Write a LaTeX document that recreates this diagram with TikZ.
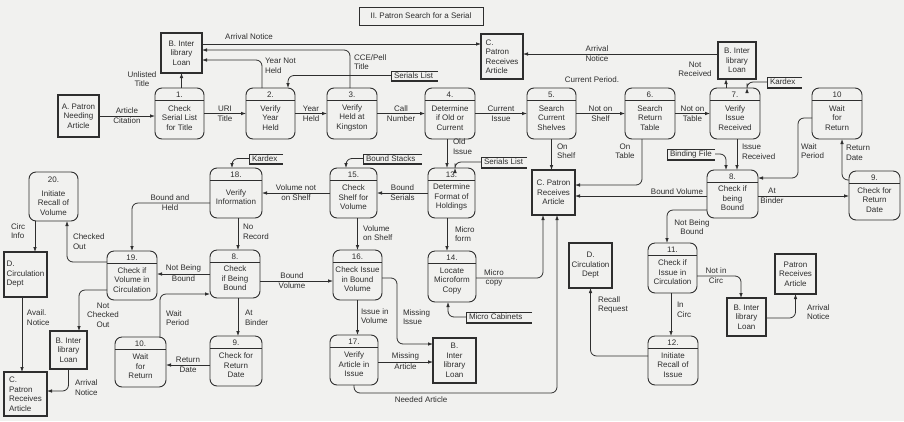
\documentclass[tikz,border=0pt]{standalone}
\usepackage{fontspec}
\setmainfont{Liberation Sans}
\usetikzlibrary{arrows.meta,calc}
\definecolor{bg}{HTML}{F1F1EF}
\definecolor{ink}{HTML}{2E2E2E}
\newcommand{\labfont}{\fontsize{8}{9.5}\selectfont}
\tikzset{
  procbox/.style={draw=ink, line width=0.9pt, rounded corners=7pt, inner sep=0pt, outer sep=0pt},
  entbox/.style={draw=ink, line width=1.3pt, inner sep=1pt, outer sep=0pt, font=\labfont, text=ink},
  txt/.style={inner sep=0pt, outer sep=0pt, align=center, font=\labfont, text=ink},
  storeline/.style={draw=ink, line width=0.7pt},
  divline/.style={draw=ink, line width=0.7pt},
  conn/.style={draw=ink, line width=0.8pt, rounded corners=6pt, -{Latex[length=5pt,width=3.6pt]}},
}
% process: name, x1, y1, x2, y2, number, body
\newcommand{\mkproc}[7]{%
  \node[procbox, minimum width={(#4-#2)*1pt}, minimum height={(#5-#3)*1pt}] (#1) at ({(#2+#4)/2},{(#3+#5)/2}) {};
  \draw[divline] ([yshift=-12.5pt]#1.north west) -- ([yshift=-12.5pt]#1.north east);
  \node[txt] at ([yshift=-6.5pt]#1.north) {#6};
  \node[txt, yshift=2pt] at ($(#1.south)!0.5!([yshift=-12.5pt]#1.north)$) {#7};
}
% external entity: [align] name, x1, y1, x2, y2, text
\newcommand{\mkent}[7][center]{%
  \node[entbox, align=#1, minimum width={(#5-#3)*1pt}, minimum height={(#6-#4)*1pt}] (#2) at ({(#3+#5)/2},{(#4+#6)/2}) {#7};
}
% data store: name, x1, y1, x2, y2, text
\newcommand{\mkstore}[6]{%
  \node[txt, anchor=west, inner xsep=3pt, minimum height={(#5-#3)*1pt}] (#1) at (#2,{(#3+#5)/2}) {#6};
  \coordinate (#1-e) at (#4,{(#3+#5)/2});
  \draw[storeline] (#4,#3) -- (#2,#3) -- (#2,#5) -- (#4,#5);
  \draw[storeline] (#2,#5+1.6) -- (#4,#5+1.6);
}
\begin{document}
\begin{tikzpicture}[x=1pt,y=-1pt]
\useasboundingbox (0,0) rectangle (904,421);
\fill[bg] (0,0) rectangle (904,421);

% title
\node[txt, draw=ink, line width=0.7pt, minimum width=124pt, minimum height=18pt] (title) at (421,16) {II. Patron Search for a Serial};

% ---------- processes ----------
\mkproc{p1}{155}{88}{204}{139}{1.}{Check\\Serial List\\for Title}
\mkproc{p2}{246}{88}{295}{139}{2.}{Verify\\Year\\Held}
\mkproc{p3}{327}{88}{377}{139}{3.}{Verify\\Held at\\Kingston}
\mkproc{p4}{425}{88}{475}{139}{4.}{Determine\\if Old or\\Current}
\mkproc{p5}{527}{88}{576}{139}{5.}{Search\\Current\\Shelves}
\mkproc{p6}{625}{88}{675}{139}{6.}{Search\\Return\\Table}
\mkproc{p7}{710}{88}{760}{139}{7.}{Verify\\Issue\\Received}
\mkproc{pXa}{812}{88}{862}{139}{10}{Wait\\for\\Return}
\mkproc{p8a}{707}{170}{758}{218}{8.}{Check if\\being\\Bound}
\mkproc{p9a}{849}{171}{900}{220}{9.}{Check for\\Return\\Date}
\mkproc{p13}{428}{168}{475}{218}{13.}{Determine\\Format of\\Holdings}
\mkproc{p15}{330}{168}{377}{218}{15.}{Check\\Shelf for\\Volume}
\mkproc{p18}{210}{168}{262}{218}{18.}{Verify\\Information}
\mkproc{p19}{107}{251}{157}{300}{19.}{Check if\\Volume in\\Circulation}
\mkproc{p8b}{210}{250}{260}{298}{8.}{Check\\if Being\\Bound}
\mkproc{p16}{333}{250}{382}{300}{16.}{Check Issue\\in Bound\\Volume}
\mkproc{p14}{428}{251}{476}{302}{14.}{Locate\\Microform\\Copy}
\mkproc{p11}{648}{243}{697}{293}{11.}{Check if\\Issue in\\Circulation}
\mkproc{p12}{648}{336}{698}{385}{12.}{Initiate\\Recall of\\Issue}
\mkproc{p10b}{115}{337}{166}{387}{10.}{Wait\\for\\Return}
\mkproc{p9b}{210}{336}{262}{386}{9.}{Check for\\Return\\Date}
\mkproc{p17}{330}{335}{378}{385}{17.}{Verify\\Article in\\Issue}
% process 20 (no divider)
\node[procbox, minimum width=49pt, minimum height=49pt] (p20) at (53.5,196.5) {};
\node[txt] at ([yshift=-8pt]p20.north) {20.};
\node[txt, yshift=-6.5pt] at (p20.center) {Initiate\\Recall of\\Volume};

% ---------- external entities ----------
\mkent{eB1}{161}{33}{202}{73}{B. Inter\\library\\Loan}
\mkent{eA}{58}{95}{99}{137}{A. Patron\\Needing\\Article}
\mkent[left]{eC1}{481}{34}{523}{79}{C.\\Patron\\Receives\\Article}
\mkent{eB2}{718}{42}{756}{79}{B. Inter\\library\\Loan}
\mkent{eCm}{532}{170}{575}{215}{C. Patron\\Receives\\Article}
\mkent[left]{eD1}{4}{252}{47}{297}{D.\\Circulation\\Dept}
\mkent{eDm}{569}{243}{612}{288}{D.\\Circulation\\Dept}
\mkent[left]{eCl}{4}{372}{47}{416}{C.\\Patron\\Receives\\Article}
\mkent{eBl}{50}{331}{87}{369}{B. Inter\\library\\Loan}
\mkent{eBm}{433}{338}{476}{383}{B.\\Inter\\library\\Loan}
\mkent{eBr}{727}{298}{766}{336}{B. Inter\\library\\Loan}
\mkent{ePr}{775}{254}{816}{294}{Patron\\Receives\\Article}

% ---------- data stores ----------
\mkstore{sSer1}{391}{71}{438}{80}{Serials List}
\mkstore{sKar1}{767}{77}{802}{87}{Kardex}
\mkstore{sBind}{667}{149}{715}{159}{Binding File}
\mkstore{sSer2}{481}{157}{527}{167}{Serials List}
\mkstore{sKar2}{249}{154}{283}{163}{Kardex}
\mkstore{sBS}{363}{154}{422}{163}{Bound Stacks}
\mkstore{sMC}{466}{312}{532}{322}{Micro Cabinets}

% ---------- top row flows ----------
\draw[conn] (eA.east) -- (eA.east -| p1.west)
  node[midway, txt, above=2pt] {Article} node[midway, txt, below=2pt] {Citation};
\draw[conn] (p1.east) -- (p2.west) node[midway, txt, above=2pt] {URI} node[midway, txt, below=2pt] {Title};
\draw[conn] (p2.east) -- (p3.west) node[midway, txt, above=2pt] {Year} node[midway, txt, below=2pt] {Held};
\draw[conn] (p3.east) -- (p4.west) node[midway, txt, above=2pt] {Call} node[midway, txt, below=2pt] {Number};
\draw[conn] (p4.east) -- (p5.west) node[midway, txt, above=2pt] {Current} node[midway, txt, below=2pt] {Issue};
\draw[conn] (p5.east) -- (p6.west) node[midway, txt, above=2pt] {Not on} node[midway, txt, below=2pt] {Shelf};
\draw[conn] (p6.east) -- (p7.west) node[midway, txt, above=2pt] {Not on} node[midway, txt, below=2pt] {Table};

\draw[conn] (p1.north -| eB1.south) -- (eB1.south);
\node[txt] at (142,79) {Unlisted\\Title};
\draw[conn] ([xshift=-8.5pt]p2.north) |- ([yshift=-7pt]eB1.east);
\node[txt, anchor=west, align=left] at (265,66) {Year Not\\Held};
\draw[conn] ([xshift=-2pt]p3.north) |- ([yshift=3pt]eB1.east);
\node[txt, anchor=west, align=left] at (354,62) {CCE/Pell\\Title};
\draw[conn] ([yshift=9pt]eB1.east) -- ([yshift=9pt]eB1.east -| eC1.west);
\node[txt] at (249,37) {Arrival Notice};
\draw[conn] (sSer1.west) -| ([xshift=17.5pt]p2.north);

\draw[conn] ([yshift=6.5pt]eB2.west) -- ([yshift=6.5pt]eB2.west -| eC1.east);
\node[txt, above=2pt] at (597,54) {Arrival};
\node[txt, below=2pt] at (597,54) {Notice};
\draw[conn] ([xshift=-9pt]p7.north) -- ([xshift=-9pt]p7.north |- eB2.south);
\node[txt] at (695,69.5) {Not\\Received};
\draw[conn] (sKar1.west) -| ([xshift=12pt]p7.north);
\node[txt] at (592,80) {Current Period.};

% ---------- middle flows ----------
\draw[conn] ([xshift=-3pt]p4.south) -- ([xshift=-3pt]p4.south |- p13.north);
\node[txt, anchor=west, align=left] at (453,146.5) {Old\\Issue};
\draw[conn] (sSer2.west) -| ([xshift=3.5pt]p13.north);
\draw[conn] (p13.west) -- (p15.east) node[midway, txt, above=2pt] {Bound} node[midway, txt, below=2pt] {Serials};
\draw[conn] (p15.west) -- (p18.east) node[midway, txt, above=2pt] {Volume not} node[midway, txt, below=2pt] {on Shelf};
\draw[conn] (sKar2.west) -| ([xshift=-4pt]p18.north);
\draw[conn] (sBS.west) -| ([xshift=-7.5pt]p15.north);
\draw[conn] ([xshift=2pt]p18.south) -- ([xshift=2pt]p18.south |- p8b.north);
\node[txt, anchor=west, align=left] at (243,232) {No\\Record};
\draw[conn] (p15.south -| p16.north) -- (p16.north);
\node[txt, anchor=west, align=left] at (363,233) {Volume\\on Shelf};
\draw[conn] ([xshift=-4.5pt]p13.south) -- ([xshift=-4.5pt]p13.south |- p14.north);
\node[txt, anchor=west, align=left] at (455,234) {Micro\\form};

\draw[conn] ([yshift=-10pt]p18.west) -| (p19.north);
\node[txt, above=2pt] at (170,203) {Bound and};
\node[txt, below=2pt] at (170,203) {Held};
\draw[conn] ([yshift=13.5pt]p19.west) -| ([xshift=13.5pt]p20.south);
\node[txt, anchor=west, align=left] at (73,241.5) {Checked\\Out};
\draw[conn] ([xshift=-18.5pt]p20.south) -- ([xshift=-18.5pt]p20.south |- eD1.north);
\node[txt, anchor=west, align=left] at (11,231) {Circ\\Info};
\draw[conn] (p8b.west) -- (p8b.west -| p19.east)
  node[midway, txt, above=2pt] {Not Being} node[midway, txt, below=2pt] {Bound};
\draw[conn] ([yshift=-7pt]p8b.east) -- ([yshift=-7pt]p8b.east -| p16.west);
\node[txt, above=2pt] at (292,281) {Bound};
\node[txt, below=2pt] at (292,281) {Volume};

\draw[conn] ([yshift=-14.5pt]p19.west) -| ([xshift=10.5pt]eBl.north);
\node[txt] at (103,315) {Not\\Checked\\Out};
\draw[conn] ([xshift=-3.5pt]eD1.south) -- ([xshift=-3.5pt]eD1.south |- eCl.north);
\node[txt, anchor=west, align=left] at (27,317.5) {Avail.\\Notice};
\draw[conn] (eBl.south) |- ([yshift=3pt]eCl.east);
\node[txt, anchor=west, align=left] at (75,387.5) {Arrival\\Notice};

\draw[conn] ([xshift=19.5pt]p10b.north) |- ([yshift=-20pt]p8b.west);
\node[txt, anchor=west, align=left] at (166,318) {Wait\\Period};
\draw[conn] ([yshift=-4pt]p9b.west) -- ([yshift=-4pt]p9b.west -| p10b.east)
  node[midway, txt, above=2pt] {Return} node[midway, txt, below=2pt] {Date};
\draw[conn] ([xshift=3pt]p8b.south) -- ([xshift=3pt]p8b.south |- p9b.north);
\node[txt, anchor=west, align=left] at (245,318) {At\\Binder};

\draw[conn] (p16.south) -- (p16.south |- p17.north);
\node[txt, anchor=west, align=left] at (361,316) {Issue in\\Volume};
\coordinate (mi) at (397,344);
\draw[conn] ([yshift=-3pt]p16.east) -| (mi) -- (mi -| eBm.west);
\node[txt, anchor=west, align=left] at (403,317) {Missing\\Issue};
\draw[conn] ([yshift=-2pt]p17.east) -- ([yshift=-2pt]p17.east -| eBm.west)
  node[midway, txt, above=2pt] {Missing} node[midway, txt, below=2pt] {Article};
\coordinate (na) at (557,393);
\draw[conn] (p17.south) |- (na) -- (na |- eCm.south);
\node[txt] at (421,400) {Needed Article};
\draw[conn] ([yshift=-1.5pt]p14.east) -| ([xshift=-10.5pt]eCm.south);
\node[txt, above=2pt] at (494,278) {Micro};
\node[txt, below=2pt] at (494,278) {copy};
\draw[conn] (sMC.west) -| ([xshift=-4pt]p14.south);

\draw[conn] (p5.south) -- (p5.south |- eCm.north);
\node[txt, anchor=west, align=left] at (557,151) {On\\Shelf};
\draw[conn] ([xshift=-8pt]p6.south) |- ([yshift=7.5pt]eCm.east);
\node[txt] at (625,151) {On\\Table};
\draw[conn] ([yshift=-2pt]p8a.west) -- ([yshift=-2pt]p8a.west -| eCm.east);
\node[txt, above=1.5pt] at (677,196) {Bound Volume};
\draw[conn] ([xshift=2pt]p7.south) -- ([xshift=2pt]p7.south |- p8a.north);
\node[txt, anchor=west, align=left] at (742,152) {Issue\\Received};
\draw[conn] (sBind-e) -| ([xshift=-6.5pt]p8a.north);
\coordinate (wp) at (798,178);
\draw[conn] ([yshift=-4.5pt]pXa.west) -| (wp) -- (wp -| p8a.east);
\node[txt, anchor=west, align=left] at (801,151) {Wait\\Period};
\draw[conn] ([yshift=15.5pt]p9a.west) -| ([xshift=5pt]pXa.south);
\node[txt, anchor=west, align=left] at (846,153) {Return\\Date};
\draw[conn] ([yshift=-2pt]p8a.east) -- ([yshift=-2pt]p8a.east -| p9a.west);
\node[txt, above=2pt] at (772,196) {At};
\node[txt, below=2pt] at (772,196) {Binder};
\draw[conn] ([yshift=-16pt]p8a.west) -| ([xshift=-5.5pt]p11.north);
\node[txt] at (692,227) {Not Being\\Bound};
\draw[conn] ([yshift=-8pt]p11.east) -| ([xshift=-5.5pt]eBr.north);
\node[txt, above=2pt] at (716,276) {Not in};
\node[txt, below=2pt] at (716,276) {Circ};
\draw[conn] ([yshift=-1pt]eBr.east) -| (ePr.south);
\node[txt, anchor=west, align=left] at (807,312) {Arrival\\Notice};
\draw[conn] ([xshift=-1.5pt]p11.south) -- ([xshift=-1.5pt]p11.south |- p12.north);
\node[txt, anchor=west, align=left] at (677,310) {In\\Circ};
\draw[conn] ([yshift=4.5pt]p12.west) -| (eDm.south);
\node[txt, anchor=west, align=left] at (598,305) {Recall\\Request};
\end{tikzpicture}
\end{document}
